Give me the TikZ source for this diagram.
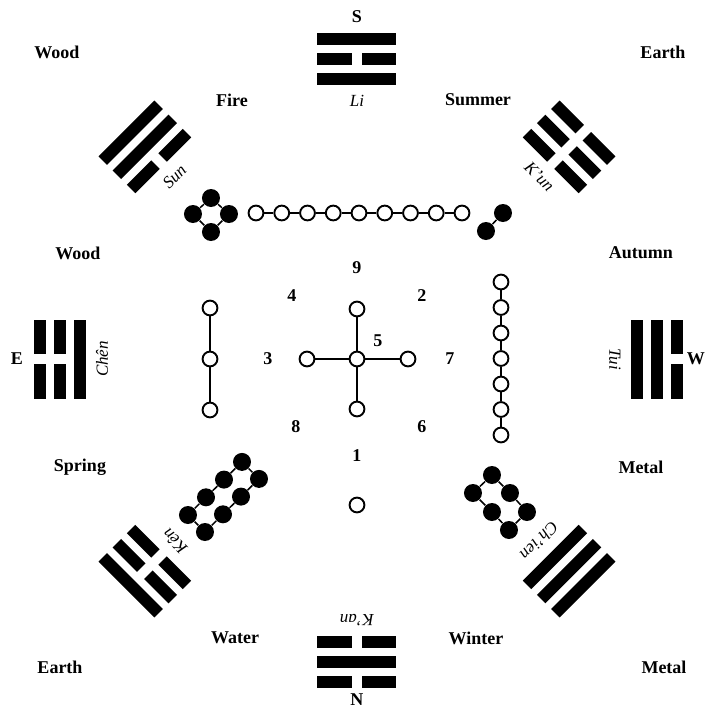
\documentclass[tikz,border=0pt]{standalone}
\usepackage{fontspec}
\setmainfont{Liberation Serif}
\usetikzlibrary{positioning}

% trigram at (angle:radius); lines inner/middle/outer (1 whole, 0 broken); name text; node name
\newcommand{\trigram}[7]{%
  \begin{scope}[shift={(#1:#2)}, rotate=#1-90]
    \foreach \kind/\yy in {#3/-20,#4/0,#5/20}{%
      \ifnum\kind=1
        \fill (-39.5,\yy-6) rectangle (39.5,\yy+6);
      \else
        \fill (-39.5,\yy-6) rectangle (-5,\yy+6);
        \fill (5,\yy-6) rectangle (39.5,\yy+6);
      \fi}
    \node[tname, rotate=#1-90] (#7) at (0,-42) {#6};
  \end{scope}}

\begin{document}
\begin{tikzpicture}[
  x=0.5pt, y=0.5pt,
  lbl/.style={font=\bfseries\fontsize{9}{10}\selectfont, inner sep=0pt},
  tname/.style={font=\itshape\fontsize{8.5}{10}\selectfont, inner sep=0pt},
  wht/.style={circle, draw, fill=white, line width=0.95pt, minimum size=7.4pt, inner sep=0pt},
  blk/.style={circle, fill=black, minimum size=9pt, inner sep=0pt},
  link/.style={line width=0.75pt}
]
\useasboundingbox (-357,-350) rectangle (349,359);

% trigrams
\trigram{90}{300}{1}{0}{1}{Li}{li}
\trigram{45}{300}{0}{0}{0}{K'un}{kun}
\trigram{0}{300}{1}{1}{0}{Tui}{tui}
\trigram{-45}{300}{1}{1}{1}{Ch'ien}{chien}
\trigram{-90}{303}{0}{1}{0}{K'an}{kan}
\trigram{225}{300}{0}{0}{1}{K\^en}{ken}
\trigram{180}{297}{1}{0}{0}{Ch\^en}{chen}
\trigram{135}{300}{0}{1}{1}{Sun}{sun}

% compass
\node[lbl] (south) at (0,342) {S};
\node[lbl] (north) at (0,-341) {N};
\node[lbl] (east) at (-340,0) {E};
\node[lbl] (west) at (339,0) {W};

% elements and seasons
\node[lbl] (wood1) at (-300,307) {Wood};
\node[lbl] (fire) at (-125,259) {Fire};
\node[lbl] (summer) at (121,259) {Summer};
\node[lbl] (earth1) at (306,307) {Earth};
\node[lbl] (wood2) at (-279,106) {Wood};
\node[lbl] (autumn) at (284,106) {Autumn};
\node[lbl] (spring) at (-277,-108) {Spring};
\node[lbl] (metal1) at (284,-108) {Metal};
\node[lbl] (water) at (-122,-279) {Water};
\node[lbl] (winter) at (119,-279) {Winter};
\node[lbl] (earth2) at (-297,-308) {Earth};
\node[lbl] (metal2) at (307,-308) {Metal};

% numbers
\node[lbl] (n9) at (0,91) {9};
\node[lbl] (n4) at (-65,63) {4};
\node[lbl] (n2) at (65,63) {2};
\node[lbl] (n5) at (21,18) {5};
\node[lbl] (n3) at (-89,0) {3};
\node[lbl] (n7) at (93,0) {7};
\node[lbl] (n8) at (-61,-68) {8};
\node[lbl] (n6) at (65,-68) {6};
\node[lbl] (n1) at (0,-97) {1};

% centre cross
\node[wht] (c) at (0,0) {};
\node[wht] (cn) at (0,50) {};
\node[wht] (cw) at (-50,0) {};
\node[wht] (ce) at (51,0) {};
\node[wht] (cs) at (0,-50) {};
\foreach \k in {cn,cw,ce,cs} \draw[link] (c) -- (\k);

% single one
\node[wht] (one) at (0,-146) {};

% left column
\node[wht] (l0) at (-147,51) {};
\node[wht] (l1) at (-147,0) {};
\node[wht] (l2) at (-147,-51) {};
\draw[link] (l0) -- (l1) -- (l2);

% top row
\foreach \i in {0,...,8} \node[wht] (t\i) at ({-101+25.75*\i},146) {};
\foreach \i [count=\j] in {0,...,7} \draw[link] (t\i) -- (t\j);

% right column
\foreach \i in {0,...,6} \node[wht] (r\i) at (144,{77-25.5*\i}) {};
\foreach \i [count=\j] in {0,...,5} \draw[link] (r\i) -- (r\j);

% four
\node[blk] (q1) at (-146,161) {};
\node[blk] (q2) at (-128,145) {};
\node[blk] (q3) at (-146,127) {};
\node[blk] (q4) at (-164,145) {};
\draw[link] (q1) -- (q2) -- (q3) -- (q4) -- (q1);

% two
\node[blk] (p1) at (146,146) {};
\node[blk] (p2) at (129,128) {};
\draw[link] (p1) -- (p2);

% eight
\foreach \i in {0,...,3} {
  \node[blk] (a\i) at ({-169+18*\i},{-156+17.7*\i}) {};
  \node[blk] (b\i) at ({-152+18*\i},{-173+17.7*\i}) {};
}
\foreach \i [count=\j] in {0,1,2} {
  \draw[link] (a\i) -- (a\j);
  \draw[link] (b\i) -- (b\j);
}
\draw[link] (a0) -- (b0);
\draw[link] (a3) -- (b3);

% six
\node[blk] (h1) at (135,-116) {};
\node[blk] (h2) at (153,-134) {};
\node[blk] (h3) at (170,-153) {};
\node[blk] (h4) at (152,-171) {};
\node[blk] (h5) at (135,-153) {};
\node[blk] (h6) at (116,-134) {};
\draw[link] (h1) -- (h2) -- (h3) -- (h4) -- (h5) -- (h6) -- (h1);
\end{tikzpicture}
\end{document}
